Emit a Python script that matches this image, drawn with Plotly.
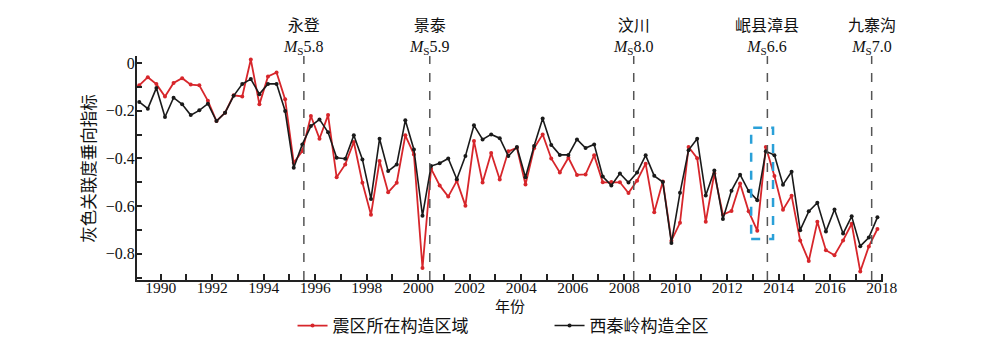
import plotly.graph_objects as go

# --- data: three 4-month periods per year, 1989-2017, plotted at period midpoints
years = list(range(1989, 2018))
x_periods = [y + (p + 0.5) / 3 for y in years for p in range(3)]

red_vals = [
    -0.093, -0.059, -0.088, -0.140, -0.083, -0.063, -0.090, -0.093, -0.158, -0.243,
    -0.208, -0.135, -0.140, 0.015, -0.173, -0.056, -0.039, -0.152, -0.418, -0.369,
    -0.222, -0.317, -0.218, -0.479, -0.425, -0.331, -0.502, -0.636, -0.411, -0.542,
    -0.502, -0.303, -0.383, -0.860, -0.443, -0.513, -0.560, -0.494, -0.598, -0.327,
    -0.501, -0.377, -0.488, -0.370, -0.355, -0.509, -0.357, -0.299, -0.400, -0.459,
    -0.397, -0.469, -0.467, -0.387, -0.500, -0.499, -0.500, -0.545, -0.493, -0.422,
    -0.626, -0.497, -0.745, -0.670, -0.352, -0.399, -0.666, -0.463, -0.636, -0.620,
    -0.505, -0.622, -0.703, -0.352, -0.474, -0.615, -0.556, -0.744, -0.830, -0.666,
    -0.785, -0.806, -0.744, -0.674, -0.874, -0.769, -0.696,
]
black_vals = [
    -0.163, -0.191, -0.104, -0.226, -0.145, -0.173, -0.218, -0.198, -0.170, -0.243,
    -0.208, -0.137, -0.088, -0.067, -0.130, -0.087, -0.087, -0.201, -0.439, -0.341,
    -0.264, -0.236, -0.290, -0.397, -0.401, -0.303, -0.404, -0.570, -0.317, -0.453,
    -0.425, -0.240, -0.362, -0.640, -0.432, -0.420, -0.400, -0.487, -0.390, -0.261,
    -0.320, -0.299, -0.315, -0.390, -0.352, -0.479, -0.348, -0.232, -0.343, -0.385,
    -0.385, -0.320, -0.356, -0.341, -0.476, -0.513, -0.463, -0.501, -0.459, -0.387,
    -0.473, -0.499, -0.755, -0.544, -0.365, -0.317, -0.555, -0.451, -0.654, -0.535,
    -0.468, -0.537, -0.575, -0.370, -0.386, -0.510, -0.456, -0.701, -0.622, -0.586,
    -0.706, -0.614, -0.715, -0.643, -0.768, -0.732, -0.647,
]

series_names = ["震区所在构造区域", "西秦岭构造全区"]

quake_names = ["永登", "景泰", "汶川", "岷县漳县", "九寨沟"]
quake_mags = ["5.8", "5.9", "8.0", "6.6", "7.0"]
quake_times = [1995.56, 2000.45, 2008.37, 2013.56, 2017.61]

highlight_x = [2012.93, 2013.78]
highlight_y = [-0.738, -0.271]

x_tickvals = list(range(1990, 2019, 2))
y_tickvals = [0, -0.2, -0.4, -0.6, -0.8]
y_ticktext = ["0", "−0.2", "−0.4", "−0.6", "−0.8"]

RED = "#d7262b"
BLACK = "#1a1a1a"
SERIF = "Liberation Serif, Times New Roman, serif"
CJK = "Noto Sans CJK SC, sans-serif"

fig = go.Figure()
fig.add_trace(go.Scatter(
    x=x_periods, y=red_vals, name=series_names[0], mode="lines+markers",
    line=dict(color=RED, width=1.8), marker=dict(color=RED, size=4),
))
fig.add_trace(go.Scatter(
    x=x_periods, y=black_vals, name=series_names[1], mode="lines+markers",
    line=dict(color=BLACK, width=1.6), marker=dict(color=BLACK, size=4),
))

for name, mag, t in zip(quake_names, quake_mags, quake_times):
    fig.add_shape(type="line", xref="x", yref="paper", x0=t, x1=t, y0=0, y1=1,
                  line=dict(color="#555555", width=1.5, dash="dash"))
    fig.add_annotation(
        x=t, xref="x", y=1.0, yref="paper", yanchor="bottom", xanchor="center",
        showarrow=False, align="center", yshift=-3,
        text=f"<span style='font-family:{CJK}'>{name}</span><br><i>M</i><sub>S</sub>{mag}",
        font=dict(family=SERIF, size=16, color="#111111"),
    )

fig.add_shape(type="rect", xref="x", yref="y",
              x0=highlight_x[0], x1=highlight_x[1], y0=highlight_y[0], y1=highlight_y[1],
              line=dict(color="#2aa0d8", width=2.5, dash="dash"))

fig.add_annotation(
    text="灰色关联度垂向指标", xref="paper", yref="paper", x=-0.066, y=0.5,
    textangle=-90, showarrow=False, xanchor="center", yanchor="middle",
    font=dict(family=CJK, size=16.5, color="#111111"),
)
fig.add_annotation(
    text="年份", xref="paper", yref="paper", x=0.5, y=-25 / 224,
    showarrow=False, xanchor="center", yanchor="middle",
    font=dict(family=CJK, size=15, color="#111111"),
)

fig.update_layout(
    width=1000, height=346,
    margin=dict(l=137, r=117, t=56, b=66, autoexpand=False),
    paper_bgcolor="white", plot_bgcolor="white",
    showlegend=True,
    legend=dict(orientation="h", x=0.553, xanchor="center",
                yref="container", y=(346 - 326) / 346, yanchor="middle",
                font=dict(family=CJK, size=17, color="#111111"),
                entrywidth=212, bgcolor="rgba(0,0,0,0)"),
    xaxis=dict(
        range=[1989.08, 2018.05], tickvals=x_tickvals, ticks="inside", ticklen=6,
        tickwidth=1.5, tickcolor="#222222", ticklabelstandoff=-8,
        minor=dict(dtick=1, tick0=1989, ticks="inside", ticklen=6, tickwidth=1.5, tickcolor="#222222"),
        showline=True, linecolor="#222222", linewidth=2, showgrid=False, zeroline=False,
        tickfont=dict(family=SERIF, size=15.5, color="#111111"),
    ),
    yaxis=dict(
        range=[-0.91, 0.03], tickvals=y_tickvals, ticktext=y_ticktext, ticks="inside",
        ticklen=5, tickwidth=1.5, tickcolor="#222222", ticklabelstandoff=-3,
        minor=dict(dtick=0.1, tick0=0, ticks="inside", ticklen=5, tickwidth=1.5, tickcolor="#222222"),
        showline=True, linecolor="#222222", linewidth=2, showgrid=False, zeroline=False,
        tickfont=dict(family=SERIF, size=16, color="#111111"),
    ),
)

fig.write_html("out.html")
